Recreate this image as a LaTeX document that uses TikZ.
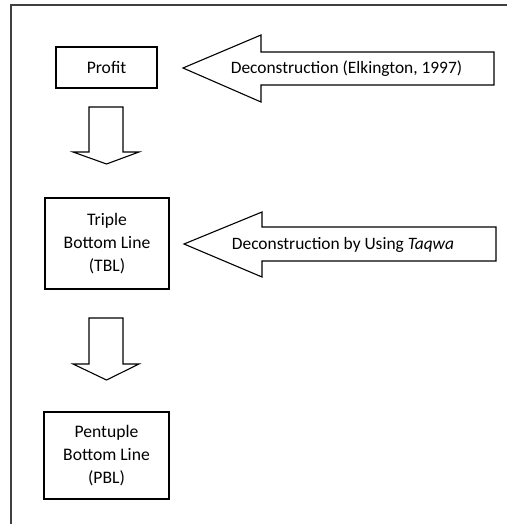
\documentclass[tikz,border=0pt]{standalone}
\usepackage{fontspec}
\setmainfont{Carlito}

\begin{document}
\begin{tikzpicture}[x=1pt,y=-1pt,
    box/.style={draw,line width=1.1pt,align=center,inner sep=0pt,
      font=\fontsize{17.6}{23}\selectfont},
    blk/.style={draw,line width=1.1pt,line join=miter},
    lbl/.style={anchor=base,inner sep=0pt,font=\fontsize{17.4}{23}\selectfont}]
  \useasboundingbox (0,0) rectangle (507,524);
  \draw[line width=1.2pt,black!75] (11,524) -- (11,5) -- (507,5);

  \node[box,minimum width=101pt,minimum height=41pt] (profit) at (106.5,67.5) {Profit};
  \node[box,minimum width=124pt,minimum height=91pt] (tbl) at (107,243.5) {Triple\\Bottom Line\\(TBL)};
  \node[box,minimum width=125pt,minimum height=87pt] (pbl) at (106.5,455.5) {Pentuple\\Bottom Line\\(PBL)};

  % deconstruction arrows
  \draw[blk] (183,68) -- (261,35) -- (261,52) -- (494,52) -- (494,85) -- (261,85) -- (261,102) -- cycle;
  \draw[blk] (184,244) -- (262,212) -- (262,227) -- (496,227) -- (496,261) -- (262,261) -- (262,277) -- cycle;
  \node[lbl] (elk) at (346.5,73.5) {Deconstruction (Elkington, 1997)};
  \node[lbl] (taqwa) at (343,249) {Deconstruction by Using \textit{Taqwa}};

  % down arrows
  \foreach \t/\h/\e in {107/152/164,318/364/380}
    \draw[blk] (89,\t) -- (123,\t) -- (123,\h) -- (139,\h) -- (106.5,\e) -- (73,\h) -- (89,\h) -- cycle;
\end{tikzpicture}
\end{document}
